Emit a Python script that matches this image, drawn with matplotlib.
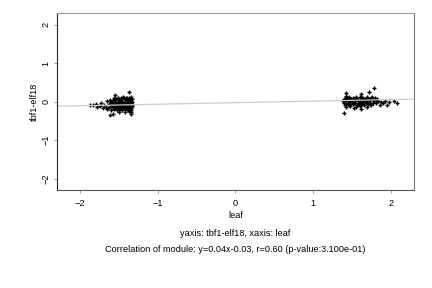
import numpy as np
import matplotlib.pyplot as plt

plt.rcParams['font.family'] = ['Liberation Sans', 'DejaVu Sans']

# left cluster (leaf around -1.5)
left_x = [-1.88, -1.84, -1.80, -1.78, -1.75, -1.73, -1.71, -1.69, -1.67, -1.66, -1.64, -1.63, -1.62, -1.61, -1.60,
          -1.52, -1.45, -1.40, -1.35,
          -1.58, -1.54, -1.50, -1.47, -1.43, -1.39, -1.36, -1.34,
          -1.60, -1.57, -1.55, -1.52, -1.49, -1.46, -1.44, -1.41, -1.38, -1.35, -1.33,
          -1.59, -1.56, -1.53, -1.50, -1.48, -1.45, -1.42, -1.40, -1.37, -1.34,
          -1.61, -1.58, -1.55, -1.51, -1.47, -1.44, -1.41, -1.38, -1.35, -1.33,
          -1.57, -1.53, -1.49, -1.46, -1.42, -1.39, -1.36, -1.34,
          -1.50, -1.43, -1.37, -1.34,
          -1.56, -1.51, -1.48, -1.44, -1.41, -1.37, -1.33,
          -1.59, -1.54, -1.49, -1.45, -1.42, -1.39, -1.36,
          -1.57, -1.52, -1.47, -1.43, -1.40, -1.36, -1.33,
          -1.55, -1.50, -1.46, -1.42, -1.38, -1.35,
          -1.37, -1.55, -1.62, -1.58, -1.34, -1.66]
left_y = [-0.08, -0.10, -0.06, -0.14, -0.11, -0.05, -0.16, -0.09, -0.13, 0.02, -0.18, -0.07, 0.05, -0.12, -0.21,
          0.10, 0.12, 0.09, 0.11,
          0.04, 0.06, 0.03, 0.05, 0.07, 0.04, 0.06, 0.02,
          -0.01, -0.03, 0.00, -0.02, -0.04, -0.01, -0.03, 0.00, -0.02, -0.04, -0.01,
          -0.08, -0.07, -0.09, -0.08, -0.06, -0.09, -0.07, -0.10, -0.08, -0.06,
          -0.13, -0.15, -0.13, -0.14, -0.15, -0.13, -0.16, -0.14, -0.15, -0.12,
          -0.20, -0.22, -0.19, -0.21, -0.20, -0.23, -0.19, -0.22,
          -0.26, -0.27, -0.25, -0.28,
          0.08, 0.09, 0.08, 0.10, 0.08, 0.09, 0.07,
          -0.05, -0.05, -0.06, -0.05, -0.04, -0.05, -0.06,
          -0.11, -0.11, -0.12, -0.10, -0.12, -0.11, -0.10,
          -0.17, -0.17, -0.18, -0.17, -0.18, -0.17,
          0.26, 0.18, -0.36, -0.32, -0.33, -0.20]

# right cluster (leaf around 1.6)
right_x = [1.42, 1.47, 1.55, 1.63, 1.70, 1.76,
           1.40, 1.44, 1.49, 1.53, 1.58, 1.62, 1.67, 1.72, 1.78, 1.82,
           1.39, 1.43, 1.47, 1.51, 1.56, 1.60, 1.65, 1.69, 1.74, 1.79, 1.84, 1.88,
           1.40, 1.45, 1.50, 1.54, 1.59, 1.63, 1.68, 1.73, 1.77, 1.81,
           1.41, 1.46, 1.52, 1.57, 1.62, 1.66, 1.71, 1.75,
           1.42, 1.48, 1.55, 1.61, 1.69,
           1.42, 1.46, 1.51, 1.56, 1.61, 1.65, 1.70, 1.75, 1.80,
           1.41, 1.45, 1.49, 1.54, 1.58, 1.64, 1.69, 1.73, 1.78, 1.83,
           1.43, 1.48, 1.53, 1.58, 1.63, 1.68, 1.74,
           1.90, 1.93, 1.95, 1.98, 2.05, 2.08, 1.86,
           1.78, 1.43, 1.62, 1.72, 1.40, 1.53, 1.62]
right_y = [0.14, 0.11, 0.12, 0.10, 0.13, 0.11,
           0.07, 0.08, 0.06, 0.07, 0.05, 0.08, 0.06, 0.07, 0.05, 0.06,
           0.01, 0.03, 0.02, 0.00, 0.03, 0.01, 0.02, 0.00, 0.03, 0.01, 0.02, 0.00,
           -0.03, -0.04, -0.02, -0.05, -0.03, -0.04, -0.02, -0.05, -0.03, -0.04,
           -0.08, -0.09, -0.07, -0.10, -0.08, -0.09, -0.07, -0.10,
           -0.13, -0.12, -0.14, -0.12, -0.13,
           0.10, 0.09, 0.10, 0.09, 0.11, 0.09, 0.10, 0.09, 0.08,
           0.04, 0.05, 0.04, 0.04, 0.03, 0.05, 0.04, 0.04, 0.03, 0.04,
           -0.06, -0.06, -0.05, -0.07, -0.06, -0.05, -0.07,
           -0.05, 0.02, -0.08, -0.02, 0.01, -0.03, -0.09,
           0.36, 0.22, 0.20, 0.25, -0.29, -0.18, -0.19]

slope = 0.04
intercept = -0.03
r_value = 0.60
p_value = 3.100e-01
ylabel = 'tbf1-elf18'
xlabel = 'leaf'

fig = plt.figure(figsize=(4.32, 2.88), dpi=100)
ax = fig.add_axes([0.132, 0.340, 0.826, 0.615])

ax.plot(left_x + right_x, left_y + right_y, linestyle='none', marker='+',
        color='black', markersize=3.5, markeredgewidth=1.0)

ax.set_xlim(-2.3, 2.3)
ax.set_ylim(-2.3, 2.3)
# regression line across the whole panel
lx = np.array(ax.get_xlim())
ax.plot(lx, slope * lx + intercept, color='#cccccc', linewidth=0.9)

ax.set_xticks([-2, -1, 0, 1, 2])
ax.set_yticks([-2, -1, 0, 1, 2])
ax.tick_params(direction='out', length=2.5, width=0.6, color='#888888',
               labelsize=6.6, pad=4)
for t in ax.get_yticklabels():
    t.set_rotation(90)
    t.set_va('center')
ax.tick_params(axis='y', pad=2)

ax.spines['left'].set_color('#222222')
ax.spines['bottom'].set_color('#555555')
ax.spines['top'].set_color('#999999')
ax.spines['right'].set_color('#777777')
for s in ax.spines.values():
    s.set_linewidth(0.8)

ax.set_xlabel(xlabel, fontsize=6.6, labelpad=2)
ax.set_ylabel(ylabel, fontsize=6.6, labelpad=2)

fig.text(235 / 432, 1 - 233 / 288, 'yaxis: %s, xaxis: %s' % (ylabel, xlabel),
         ha='center', va='center', fontsize=6.6)
fig.text(235 / 432, 1 - 250 / 288,
         'Correlation of module: y=%.2fx%.2f, r=%.2f (p-value:%.3e)' % (slope, intercept, r_value, p_value),
         ha='center', va='center', fontsize=6.6)

plt.savefig('out.png', dpi=100)
